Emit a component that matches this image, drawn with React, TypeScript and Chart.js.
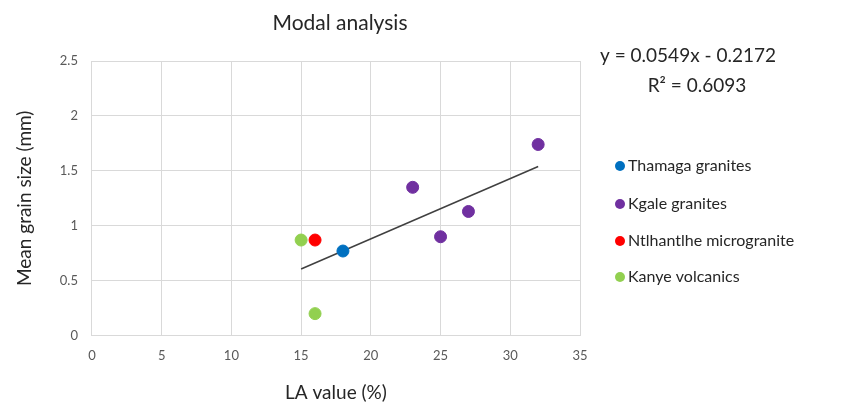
import React, { useEffect, useRef } from "react";
import { Chart, registerables } from "chart.js";

Chart.register(...registerables);

const chartTitle = "Modal analysis";
const seriesNames = ["Thamaga granites", "Kgale granites", "Ntlhantlhe microgranite", "Kanye volcanics"];
const seriesColors = ["#0070C0", "#7030A0", "#FF0000", "#92D050"];

const thamagaX = [18];
const thamagaY = [0.77];
const kgaleX = [23, 25, 27, 32];
const kgaleY = [1.35, 0.9, 1.13, 1.74];
const ntlhantlheX = [16];
const ntlhantlheY = [0.87];
const kanyeX = [15, 16];
const kanyeY = [0.87, 0.2];

const trendSlope = 0.0549;
const trendIntercept = -0.2172;
const trendXRange = [15, 32];
const equationLines = ["y = 0.0549x - 0.2172", "R² = 0.6093"];

const xTicks = [0, 5, 10, 15, 20, 25, 30, 35];
const yTicks = [0, 0.5, 1, 1.5, 2, 2.5];

const FONT = "Lato, 'Open Sans', sans-serif";

const zip = (xs: number[], ys: number[]) => xs.map((x, i) => ({ x, y: ys[i] }));

const overlayPlugin = {
  id: "overlay",
  afterDraw(chart: any) {
    const ctx = chart.ctx;
    const area = chart.chartArea;
    ctx.save();
    ctx.fillStyle = "#262626";
    ctx.textBaseline = "middle";
    // title
    ctx.font = `21px ${FONT}`;
    ctx.textAlign = "center";
    ctx.fillText(chartTitle, (area.left + area.right) / 2 + 4, 23);
    // equation
    ctx.font = `19px ${FONT}`;
    ctx.fillText(equationLines[0], 688, 56);
    ctx.fillText(equationLines[1], 697, 86);
    // legend
    const ys = [166, 204, 241, 277];
    ctx.font = `16px ${FONT}`;
    ctx.textAlign = "left";
    seriesNames.forEach((name, i) => {
      ctx.beginPath();
      ctx.fillStyle = seriesColors[i];
      ctx.arc(620, ys[i], 5, 0, Math.PI * 2);
      ctx.fill();
      ctx.fillStyle = "#262626";
      ctx.fillText(name, 628, ys[i]);
    });
    ctx.restore();
  },
};

export default function App() {
  const ref = useRef<HTMLCanvasElement>(null);
  useEffect(() => {
    if (!ref.current) return;
    const pointSets = [
      zip(thamagaX, thamagaY),
      zip(kgaleX, kgaleY),
      zip(ntlhantlheX, ntlhantlheY),
      zip(kanyeX, kanyeY),
    ];
    const datasets: any[] = pointSets.map((data, i) => ({
      type: "scatter",
      label: seriesNames[i],
      data,
      backgroundColor: seriesColors[i],
      borderColor: seriesColors[i],
      pointRadius: 6,
      pointHoverRadius: 6,
      order: 1,
    }));
    datasets.push({
      type: "line",
      label: "Trend",
      data: trendXRange.map((x) => ({ x, y: trendSlope * x + trendIntercept })),
      borderColor: "#404040",
      borderWidth: 1.5,
      pointRadius: 0,
      fill: false,
      order: 2,
    });
    const chart = new Chart(ref.current, {
      type: "scatter",
      data: { datasets },
      options: {
        animation: false,
        responsive: false,
        maintainAspectRatio: false,
        layout: { padding: { left: 13, right: 261, top: 61, bottom: 0 } },
        plugins: {
          legend: { display: false },
          tooltip: { enabled: false },
          title: { display: false },
        },
        scales: {
          x: {
            type: "linear",
            min: 0,
            max: 35,
            afterBuildTicks: (s: any) => {
              s.ticks = xTicks.map((v) => ({ value: v }));
            },
            ticks: { color: "#595959", font: { family: FONT, size: 13 }, padding: 12 },
            grid: { color: "#d9d9d9", drawTicks: false, lineWidth: 1 },
            border: { color: "#d9d9d9" },
            title: {
              display: true,
              text: "LA value (%)",
              color: "#262626",
              font: { family: FONT, size: 19 },
              padding: { top: 6, bottom: 0 },
            },
          },
          y: {
            type: "linear",
            min: 0,
            max: 2.5,
            afterBuildTicks: (s: any) => {
              s.ticks = yTicks.map((v) => ({ value: v }));
            },
            ticks: {
              color: "#595959",
              font: { family: FONT, size: 13 },
              padding: 14,
              callback: (v: any) => String(v),
            },
            grid: { color: "#d9d9d9", drawTicks: false, lineWidth: 1 },
            border: { color: "#d9d9d9" },
            title: {
              display: true,
              text: "Mean grain size (mm)",
              color: "#262626",
              font: { family: FONT, size: 19 },
              padding: { top: 0, bottom: 10 },
            },
          },
        },
      },
      plugins: [overlayPlugin],
    });
    return () => chart.destroy();
  }, []);
  return (
    <div style={{ position: "fixed", left: 0, top: 0, width: 841, height: 404, background: "#fff" }}>
      <canvas ref={ref} width={841} height={404} />
    </div>
  );
}
